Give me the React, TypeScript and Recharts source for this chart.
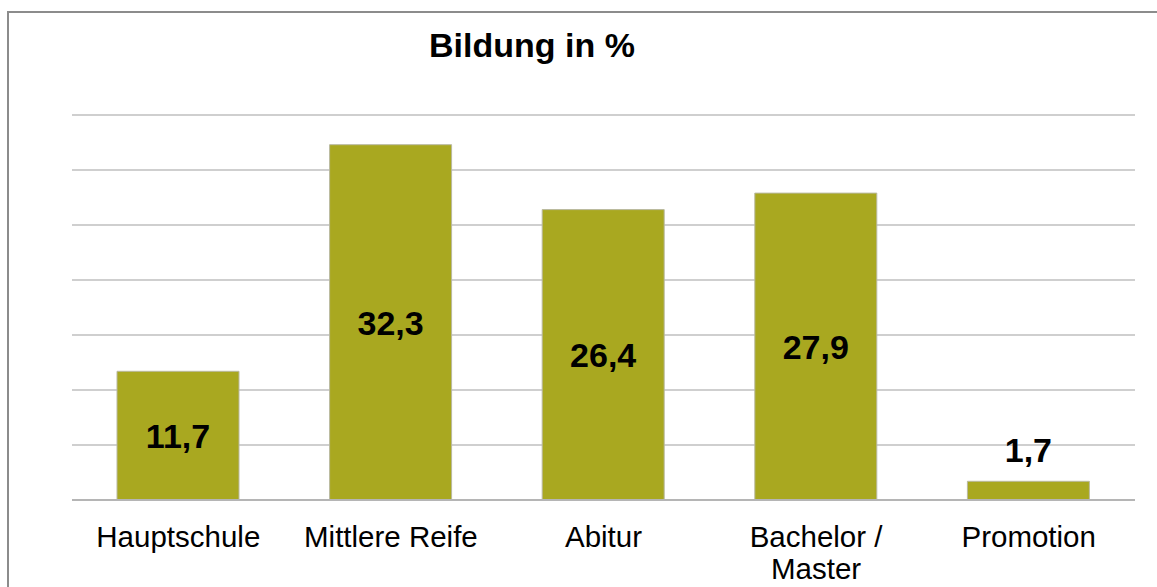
import React from "react";
import { BarChart, Bar, XAxis, YAxis, CartesianGrid, LabelList } from "recharts";

const categories = ["Hauptschule", "Mittlere Reife", "Abitur", "Bachelor / Master", "Promotion"];
const values = [11.7, 32.3, 26.4, 27.9, 1.7];
const tickLines: string[][] = [["Hauptschule"], ["Mittlere Reife"], ["Abitur"], ["Bachelor /", "Master"], ["Promotion"]];
const yTicks = [0, 5, 10, 15, 20, 25, 30, 35];

const data = categories.map((c, i) => ({ name: c, value: values[i] }));

const FONT = "'Liberation Sans', Arial, sans-serif";

const CatTick = (props: any) => {
  const { x, y, payload } = props;
  const idx = categories.indexOf(payload.value);
  const lines = idx >= 0 ? tickLines[idx] : [String(payload.value)];
  return (
    <g>
      {lines.map((l, i) => (
        <text
          key={i}
          x={x}
          y={y + 39 + i * 32}
          textAnchor="middle"
          fontFamily={FONT}
          fontSize={29.5}
          fill="#000"
        >
          {l}
        </text>
      ))}
    </g>
  );
};

const ValueLabel = (props: any) => {
  const { x, y, width, height, value } = props;
  const txt = String(value).replace(".", ",");
  const cx = x + width / 2;
  const inside = height > 40;
  const cy = inside ? y + height / 2 : y - 32;
  return (
    <text
      x={cx}
      y={cy}
      dy="0.36em"
      textAnchor="middle"
      fontFamily={FONT}
      fontWeight="bold"
      fontSize={34}
      fill="#000"
    >
      {txt}
    </text>
  );
};

export default function App() {
  return (
    <div style={{ position: "absolute", left: 0, top: 0, width: 1157, height: 587, overflow: "hidden", background: "#fff" }}>
      <div
        style={{
          position: "absolute",
          left: 7,
          top: 11,
          width: 1300,
          height: 800,
          borderTop: "2px solid #8c8c8c",
          borderLeft: "2px solid #8c8c8c",
        }}
      />
      <div style={{ position: "absolute", left: 0, top: 0 }}>
        <BarChart width={1157} height={587} data={data} margin={{ top: 115, right: 22, left: 72, bottom: 27 }}>
          <CartesianGrid vertical={false} stroke="#cfcfcf" strokeWidth={2} />
          <XAxis
            dataKey="name"
            height={60}
            interval={0}
            tickLine={false}
            axisLine={{ stroke: "#b5b5b5", strokeWidth: 2 }}
            tick={<CatTick />}
          />
          <YAxis hide domain={[0, 35]} ticks={yTicks} width={0} />
          <Bar dataKey="value" fill="#A9A820" stroke="#b9b9a0" strokeWidth={1} barSize={122} isAnimationActive={false}>
            <LabelList dataKey="value" content={<ValueLabel />} />
          </Bar>
        </BarChart>
      </div>
      <div
        style={{
          position: "absolute",
          left: 332,
          width: 400,
          top: 24,
          textAlign: "center",
          fontFamily: FONT,
          fontWeight: "bold",
          fontSize: 34,
          lineHeight: "42px",
          color: "#000",
        }}
      >
        Bildung in %
      </div>
    </div>
  );
}
